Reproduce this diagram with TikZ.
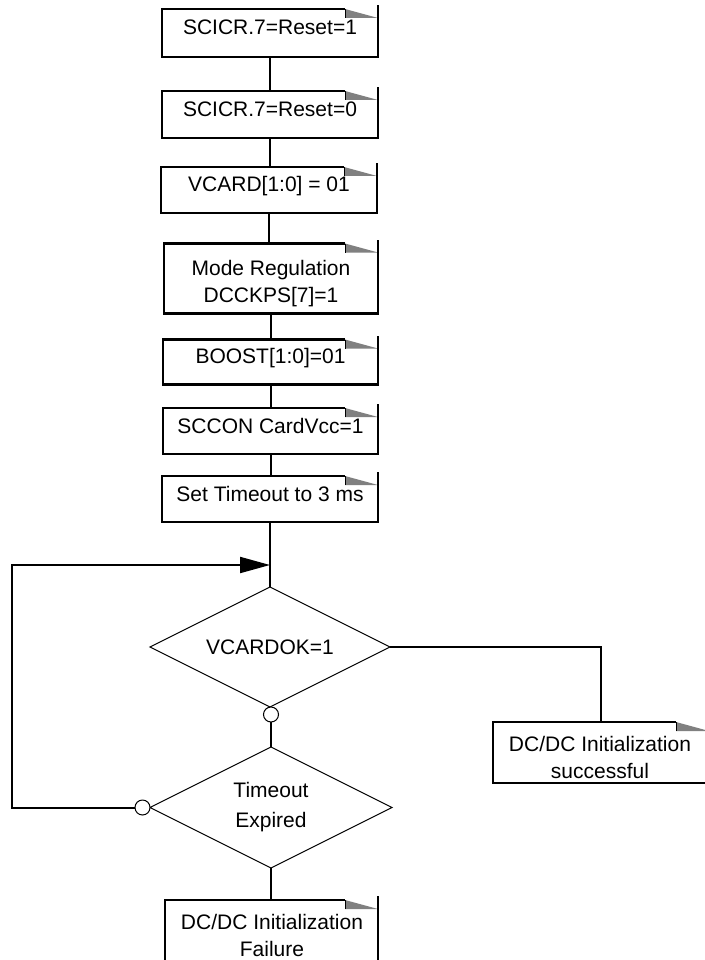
\documentclass[tikz,border=0pt]{standalone}
\usepackage{fontspec}
\setmainfont{Liberation Sans}
\usetikzlibrary{shapes.geometric,arrows.meta,calc}
\tikzset{
  stepbox/.style={rectangle, inner sep=0pt, outer sep=0pt, draw=none},
  lbl/.style={inner sep=0pt, font=\fontsize{21}{27}\selectfont, align=center},
  dec/.style={diamond, aspect=2, draw, line width=1pt, inner sep=0pt, outer sep=0pt,
    font=\fontsize{21}{30}\selectfont, align=center},
  conn/.style={line width=2pt},
  ring/.style={circle, draw, line width=1pt, minimum size=15pt, inner sep=0pt, outer sep=0pt, fill=white},
  foldgray/.style={fill=black!50},
}
\newcommand\foldframe[1]{%
  \fill[foldgray] ($(#1.north east)+(-33,0)$) -- ($(#1.north east)+(0,9)$) -- ($(#1.north east)+(-33,9)$) -- cycle;
  \draw[line width=2.2pt, line join=miter] ($(#1.north east)+(-33,0)$) -- (#1.north west) -- (#1.south west) -- (#1.south east) -- ($(#1.north east)+(0,-4)$);
  \draw[line width=0.8pt] ($(#1.north east)+(-33,0)$) -- ($(#1.north east)+(-33,9)$);
}
\begin{document}
\begin{tikzpicture}[x=1pt,y=-1pt]
\useasboundingbox (0,0) rectangle (704,960);
\fill[white] (0,0) rectangle (704,960);

% process boxes
\node[stepbox, minimum width=216pt, minimum height=48pt] (b1) at (270,33) {};
\node[stepbox, minimum width=216pt, minimum height=47pt] (b2) at (270,114.5) {};
\node[stepbox, minimum width=216pt, minimum height=46pt] (b3) at (269,190) {};
\node[stepbox, minimum width=214pt, minimum height=70pt] (b4) at (271,278.5) {};
\node[stepbox, minimum width=215pt, minimum height=45pt] (b5) at (270.5,362) {};
\node[stepbox, minimum width=215pt, minimum height=46pt] (b6) at (270.5,431) {};
\node[stepbox, minimum width=216pt, minimum height=46pt] (b7) at (270,499) {};
\node[stepbox, minimum width=216pt, minimum height=61pt] (s) at (601,752.5) {};
\node[stepbox, minimum width=213pt, minimum height=69pt] (f) at (271.5,934.5) {};

\foreach \n in {b1,b2,b3,b4,b5,b6,b7,s,f} {\foldframe{\n}}

% texts
\node[lbl] (t1) at (270,27) {SCICR.7=Reset=1};
\node[lbl] (t2) at (270,109) {SCICR.7=Reset=0};
\node[lbl] (t3) at (269,186) {VCARD[1:0] = 01};
\node[lbl] (t4) at (271,284) {Mode Regulation\\DCCKPS[7]=1};
\node[lbl] (t5) at (270.5,358) {BOOST[1:0]=01};
\node[lbl] (t6) at (270.5,426) {SCCON CardVcc=1};
\node[lbl] (t7) at (270,494) {Set Timeout to 3 ms};
\node[lbl] (ts) at (600,757.5) {DC/DC Initialization\\successful};
\node[lbl] (tf) at (272,935) {DC/DC Initialization\\Failure};

% decisions
\node[dec, minimum width=240pt, minimum height=120pt] (d1) at (270,647) {VCARDOK=1};
\node[dec, minimum width=242pt, minimum height=121pt] (d2) at (271,807.5) {Timeout\\Expired};

% connectors
\draw[conn] (b1.south) -- (b1.south |- b2.north);
\draw[conn] (b2.south) -- (b2.south |- b3.north);
\draw[conn] (b3.south) -- (b3.south |- b4.north);
\draw[conn] (b4.south) -- (b4.south |- b5.north);
\draw[conn] (b5.south) -- (b5.south |- b6.north);
\draw[conn] (b6.south) -- (b6.south |- b7.north);
\draw[conn] (b7.south) -- (b7.south |- d1.north);

\node[ring] (c1) at (271,714.5) {};
\node[ring] (c2) at (142.5,807.5) {};

\draw[conn] (c1.south) -- (c1.south |- d2.north);
\draw[conn] (d1.east) -| (s.north);
\draw[conn] (d2.south) -- (d2.south |- f.north);

\coordinate (lp) at (12,565);
\coordinate (j) at (270,565);
\draw[conn, -{Triangle[length=30pt,width=16pt]}] (c2.west) -| (lp) -- (j);
\end{tikzpicture}
\end{document}
